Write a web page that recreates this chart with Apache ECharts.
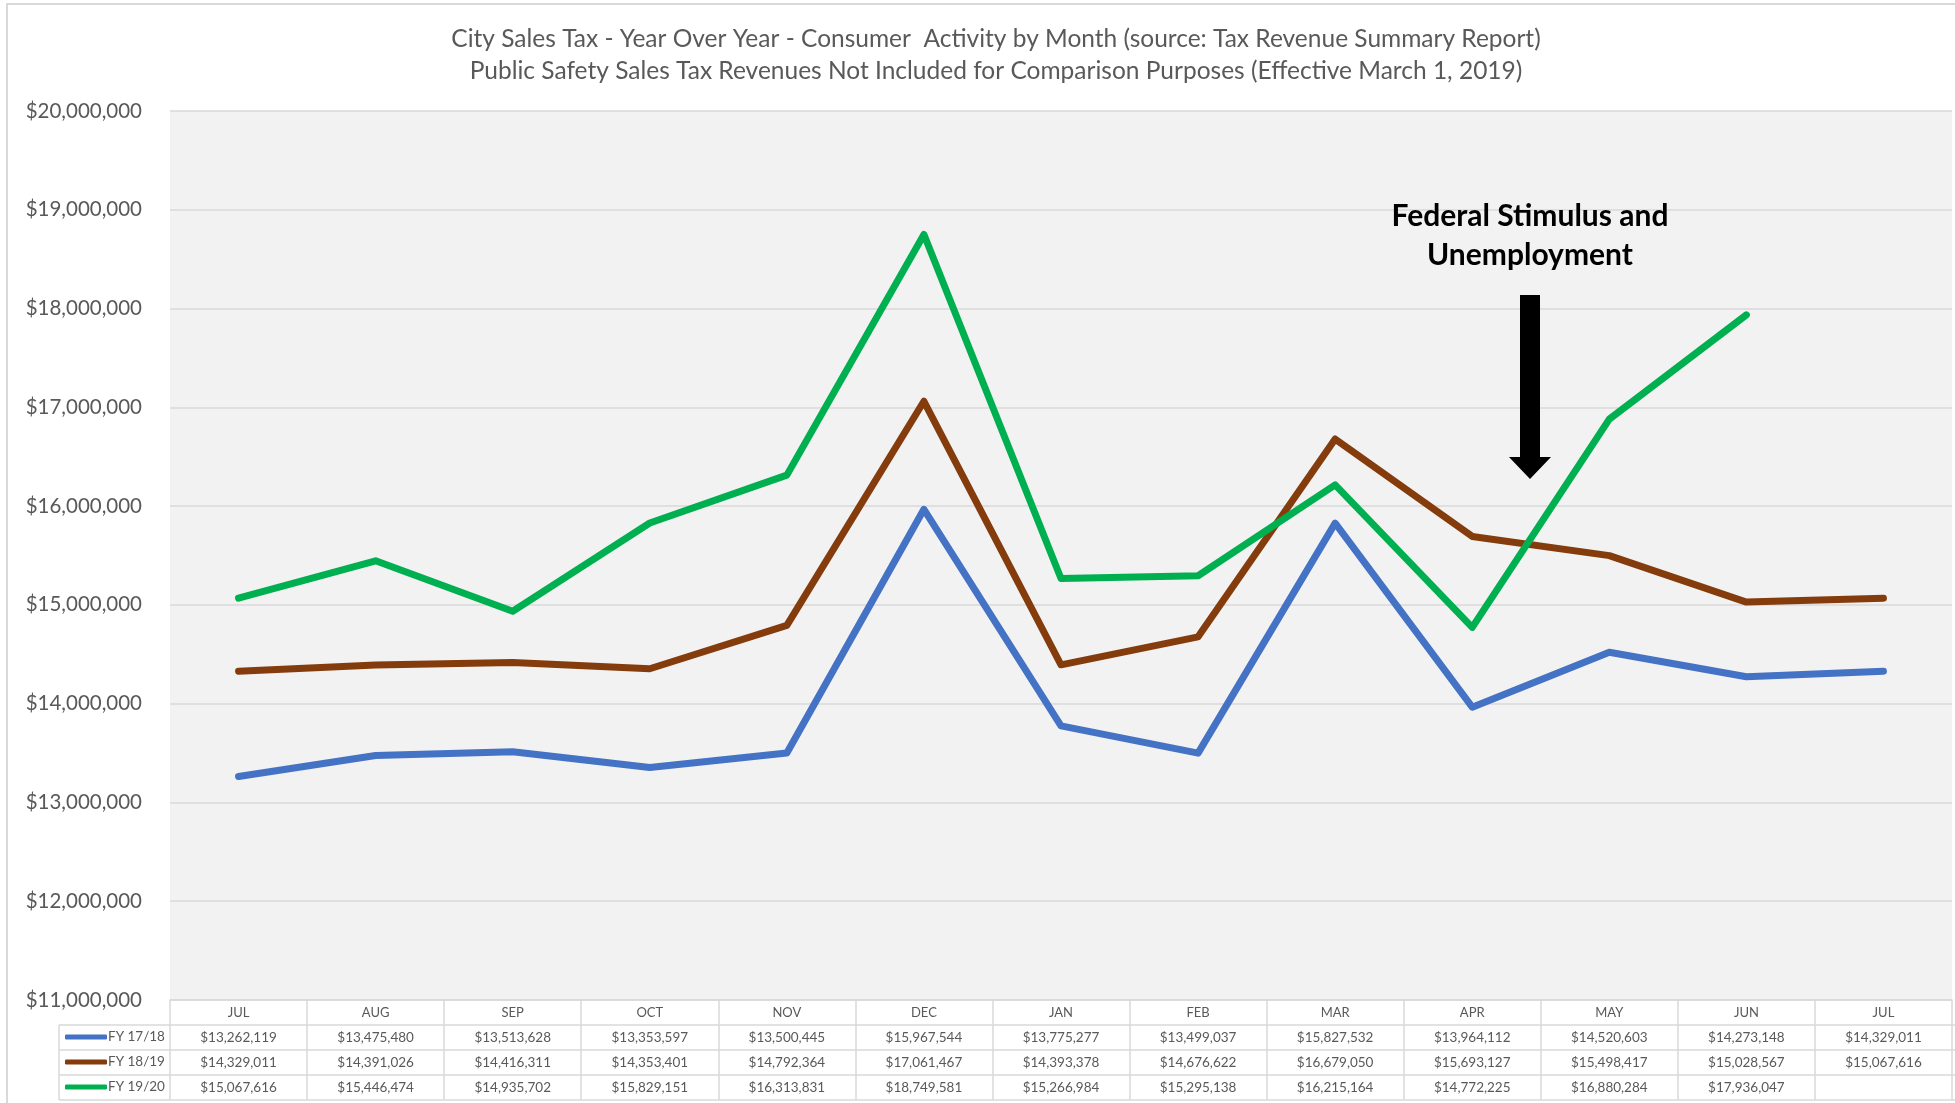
<!DOCTYPE html>
<html><head><meta charset="utf-8">
<script src="https://cdn.jsdelivr.net/npm/echarts@6/dist/echarts.min.js"></script>
<style>html,body{margin:0;padding:0;background:#fff}#c{width:1955px;height:1103px}</style>
</head><body><div id="c"></div>
<script>
const months = ['JUL','AUG','SEP','OCT','NOV','DEC','JAN','FEB','MAR','APR','MAY','JUN','JUL'];
const fy1718 = [13262119,13475480,13513628,13353597,13500445,15967544,13775277,13499037,15827532,13964112,14520603,14273148,14329011];
const fy1819 = [14329011,14391026,14416311,14353401,14792364,17061467,14393378,14676622,16679050,15693127,15498417,15028567,15067616];
const fy1920 = [15067616,15446474,14935702,15829151,16313831,18749581,15266984,15295138,16215164,14772225,16880284,17936047,null];
const seriesNames = ['FY 17/18','FY 18/19','FY 19/20'];
const colors = ['#4472C4','#843C0C','#00B050'];
const titleLines = ['City Sales Tax - Year Over Year - Consumer  Activity by Month (source: Tax Revenue Summary Report)',
  'Public Safety Sales Tax Revenues Not Included for Comparison Purposes (Effective March 1, 2019)'];
const annotation = 'Federal Stimulus and\nUnemployment';

const FONT = 'Lato';
const fmt = v => v == null ? '' : '$' + v.toLocaleString('en-US');
const allSeries = [fy1718, fy1819, fy1920];

const GL = 170, GT = 111, GB = 103, GR = 3;
const tableTop = 1000, rowH = 25;

const rowAxes = allSeries.map((s, i) => ({
  type: 'category', gridIndex: 0, position: 'bottom', offset: rowH * (i + 1),
  data: s.map(fmt),
  axisLine: {show: false}, axisTick: {show: false},
  axisLabel: {interval: 0, margin: 6, fontFamily: FONT, fontSize: 13.5, color: '#595959'}
}));

const chart = echarts.init(document.getElementById('c'));
const option = {
  animation: false,
  textStyle: {fontFamily: FONT},
  title: {
    text: titleLines.join('\n'), left: 991, top: 18, textAlign: 'center',
    textStyle: {fontFamily: FONT, fontWeight: 'normal', fontSize: 24.5, color: '#595959', lineHeight: 32}
  },
  legend: {
    orient: 'vertical', left: 65, top: tableTop + rowH + 2, itemGap: 5, padding: 0,
    itemWidth: 42, itemHeight: 5, icon: 'roundRect',
    data: seriesNames,
    textStyle: {fontFamily: FONT, fontSize: 13.5, color: '#595959', padding: [0,0,0,-4], lineHeight: 20}
  },
  grid: {left: GL, right: GR, top: GT, bottom: GB, show: true, backgroundColor: '#F2F2F2', borderWidth: 0},
  xAxis: [{
    type: 'category', gridIndex: 0, position: 'bottom', data: months, boundaryGap: true,
    axisLine: {lineStyle: {color: '#D9D9D9', width: 1.5}},
    axisTick: {show: true, interval: 0, length: rowH * 4, lineStyle: {color: '#D9D9D9', width: 1.5}},
    axisLabel: {interval: 0, margin: 6, fontFamily: FONT, fontSize: 13, color: '#595959'}
  }].concat(rowAxes),
  yAxis: {
    type: 'value', min: 11000000, max: 20000000, interval: 1000000,
    axisLine: {show: false}, axisTick: {show: false},
    splitLine: {lineStyle: {color: '#D9D9D9', width: 1.5}},
    axisLabel: {margin: 28, fontFamily: FONT, fontSize: 20.5, color: '#595959', formatter: v => fmt(v)}
  },
  series: allSeries.map((s, i) => ({
    name: seriesNames[i], type: 'line', data: s, xAxisIndex: 0,
    showSymbol: false, symbol: 'none', lineStyle: {width: 7, color: colors[i], cap: 'round', join: 'round'},
    itemStyle: {color: colors[i]}, z: 3
  })),
  graphic: [
    {type: 'rect', shape: {x: 7, y: 4, width: 1960, height: 1110}, style: {fill: null, stroke: '#D9D9D9', lineWidth: 2}, silent: true},
    {type: 'line', shape: {x1: 59, y1: tableTop + rowH, x2: 1955, y2: tableTop + rowH}, style: {stroke: '#D9D9D9', lineWidth: 1.5}},
    {type: 'line', shape: {x1: 59, y1: tableTop + rowH*2, x2: 1955, y2: tableTop + rowH*2}, style: {stroke: '#D9D9D9', lineWidth: 1.5}},
    {type: 'line', shape: {x1: 59, y1: tableTop + rowH*3, x2: 1955, y2: tableTop + rowH*3}, style: {stroke: '#D9D9D9', lineWidth: 1.5}},
    {type: 'line', shape: {x1: 59, y1: tableTop + rowH*4, x2: 1955, y2: tableTop + rowH*4}, style: {stroke: '#D9D9D9', lineWidth: 1.5}},
    {type: 'line', shape: {x1: 59, y1: tableTop + rowH, x2: 59, y2: tableTop + rowH*4}, style: {stroke: '#D9D9D9', lineWidth: 1.5}},
    {type: 'text', style: {x: 1530, y: 197, text: annotation, textAlign: 'center', font: 'bold 30px Lato', fill: '#000', lineHeight: 39}, z: 10},
    {type: 'polygon', shape: {points: [[1520,295],[1540,295],[1540,457],[1551,457],[1530,479],[1509,457],[1520,457]]}, style: {fill: '#000'}, z: 10}
  ]
};
chart.setOption(option);
</script></body></html>
